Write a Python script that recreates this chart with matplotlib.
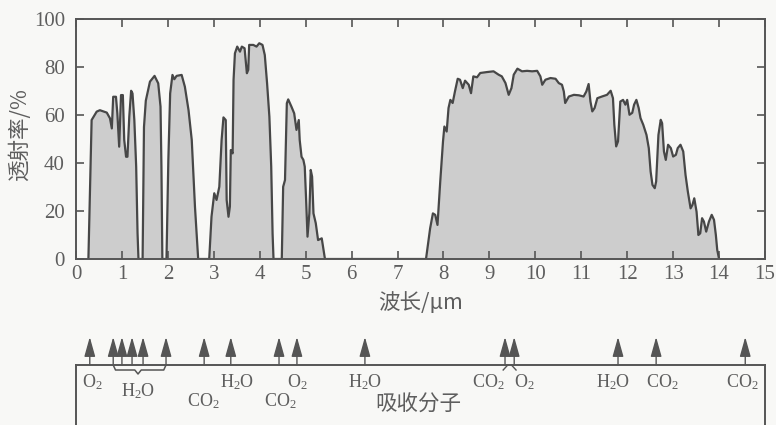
import matplotlib
matplotlib.use('Agg')
import numpy as np
import matplotlib.pyplot as plt

plt.rcParams['font.family'] = ['Liberation Serif', 'Noto Sans CJK SC']
plt.rcParams['mathtext.fontset'] = 'custom'
plt.rcParams['mathtext.rm'] = 'Liberation Serif'
plt.rcParams['mathtext.default'] = 'regular'

# transmission windows (wavelength um, transmittance %)
wl_1 = [0.27, 0.34, 0.45, 0.52, 0.67, 0.74, 0.78, 0.81, 0.87, 0.90, 0.94, 0.98, 1.02, 1.05, 1.09,
        1.12, 1.16, 1.20, 1.23, 1.27, 1.31, 1.34, 1.36]
tr_1 = [0, 57.9, 61.4, 62, 61, 58.6, 54.4, 67.6, 67.6, 60.7, 46.8, 68.3, 68.3, 49.6, 42.6,
        42.6, 59.3, 70.1, 69, 57.9, 38.5, 10.7, 0]

wl_2 = [1.45, 1.48, 1.52, 1.61, 1.71, 1.79, 1.84, 1.86, 1.88]
tr_2 = [0, 55, 66, 73.9, 76.3, 73.2, 63.5, 38.5, 0]

wl_3 = [1.97, 2.01, 2.05, 2.10, 2.14, 2.19, 2.30, 2.37, 2.45, 2.52, 2.59, 2.66]
tr_3 = [0, 41, 69, 76.7, 74.9, 76.3, 76.7, 71.8, 62, 49.6, 21.8, 0]

wl_4 = [2.90, 2.95, 3.01, 3.06, 3.12, 3.17, 3.21, 3.26, 3.28, 3.32, 3.35, 3.37, 3.41, 3.43, 3.46,
        3.51, 3.57, 3.61, 3.67, 3.72, 3.75, 3.77, 3.86, 3.93, 3.99, 4.06, 4.11, 4.16, 4.21, 4.25,
        4.28, 4.30]
tr_4 = [0, 17.6, 27.4, 24.6, 30.1, 49.6, 59, 57.9, 24.6, 17.6, 21.8, 45.4, 44, 74.6, 85.7,
        88.5, 86.4, 88.5, 87.8, 77.4, 78.8, 89.2, 89.2, 88.5, 89.9, 89.2, 85, 73.2, 59.3, 38.5,
        10.4, 0]

wl_5 = [4.48, 4.51, 4.55, 4.59, 4.62, 4.69, 4.75, 4.80, 4.85, 4.87, 4.91, 4.95, 4.98, 5.01, 5.04,
        5.08, 5.11, 5.14, 5.17, 5.22, 5.27, 5.35, 5.42]
tr_5 = [0, 30.1, 32.9, 64.9, 66.5, 63.5, 60.7, 53.8, 57.9, 49.6, 42.6, 41.3, 38.5, 24.6, 9.3,
        19, 37.1, 34.3, 19, 14.9, 7.9, 8.6, 0]

wl_6 = [7.62, 7.71, 7.77, 7.82, 7.87, 7.93, 7.99, 8.02, 8.07, 8.11, 8.15, 8.20, 8.25, 8.31, 8.36,
        8.42, 8.47, 8.55, 8.60, 8.65, 8.73, 8.80, 8.95, 9.09, 9.20, 9.27, 9.35, 9.42, 9.48, 9.53,
        9.61, 9.71, 9.82, 9.93, 10.04, 10.11, 10.15, 10.22, 10.33, 10.44, 10.51, 10.58, 10.62,
        10.65, 10.73, 10.84, 10.95, 11.05, 11.11, 11.16, 11.20, 11.24, 11.29, 11.35, 11.45, 11.56,
        11.64, 11.69, 11.72, 11.76, 11.80, 11.85, 11.91, 11.96, 12.00, 12.05, 12.11, 12.15, 12.20,
        12.25, 12.29, 12.35, 12.42, 12.47, 12.51, 12.55, 12.60, 12.63, 12.68, 12.73, 12.76, 12.80,
        12.84, 12.89, 12.95, 13.00, 13.06, 13.10, 13.16, 13.22, 13.27, 13.32, 13.38, 13.42, 13.46,
        13.51, 13.55, 13.59, 13.63, 13.67, 13.72, 13.78, 13.84, 13.89, 13.93, 13.96, 14.00]
tr_6 = [0, 12.8, 19, 18.4, 14.2, 32.3, 49, 55.2, 53.1, 62.9, 66.3, 65, 69.8, 75.1, 74.7,
        71.2, 74.3, 72.6, 69.1, 76.1, 75.7, 77.5, 77.9, 78.2, 76.8, 76.1, 73.3, 68.4, 71.2, 76.8,
        79.3, 78.2, 78.4, 78.2, 78.4, 76.1, 72.6, 74.7, 75.4, 75.1, 73.3, 72.6, 69.8,
        65, 67.7, 68.4, 68.2, 67.7, 69.8, 72.9, 65.6, 61.5, 62.9, 67, 67.7, 68.4,
        70.1, 67, 55.9, 46.9, 49, 65.6, 66.3, 64.3, 66.3, 60.1, 60.9, 64.3, 66.3,
        62.9, 58.7, 55.9, 51.7, 46.2, 36.4, 30.9, 29.5, 32.3, 51.7, 58, 56.6, 44.8,
        41.3, 47.6, 46.2, 42.7, 43.4, 46.2, 47.6, 44.8, 35, 28.1, 21.1, 22.5, 25.3,
        19.7, 10, 10.7, 17, 15.6, 11.4, 15.6, 18.4, 16.3, 10, 3.8, 0]

# absorbing molecules
arrow_wl = [0.30, 0.81, 1.00, 1.22, 1.46, 1.96, 2.79, 3.37, 4.42, 4.81, 6.29, 9.34, 9.54,
            11.80, 12.63, 14.57]
mol_text = ['O$_2$', 'H$_2$O', 'CO$_2$', 'H$_2$O', 'CO$_2$', 'O$_2$', 'H$_2$O', 'CO$_2$', 'O$_2$',
            'H$_2$O', 'CO$_2$', 'CO$_2$']
mol_wl = [0.35, 1.35, 2.77, 3.51, 4.44, 4.81, 6.29, 8.97, 9.75, 11.69, 12.76, 14.50]
mol_row = [0, 1, 2, 0, 2, 0, 0, 0, 0, 0, 0, 0]

bg = '#f8f8f6'
gray = '#555555'
txt = '#5e5e5e'

wl = np.concatenate([wl_1, wl_2, wl_3, wl_4, wl_5, wl_6])
tr = np.concatenate([tr_1, tr_2, tr_3, tr_4, tr_5, tr_6])

fig = plt.figure(figsize=(7.76, 4.25), dpi=100, facecolor=bg)
ax = fig.add_axes([76/776, 1 - 259/425, 689/776, 240/425], facecolor=bg)
ax.fill_between(wl, tr, 0, color='#cdcdcd', lw=0)
ax.plot(wl, tr, color='#474747', lw=1.6)
ax.set_xlim(0, 15)
ax.set_ylim(0, 100)
ax.set_xticks(range(0, 16))
ax.set_yticks(range(0, 101, 20))
ax.tick_params(direction='in', top=True, right=True, length=6, width=1.2,
               colors=gray, labelcolor=txt, labelsize=15)
ax.tick_params(axis='y', pad=8)
ax.tick_params(axis='x', pad=4)
for s in ax.spines.values():
    s.set_color(gray)
    s.set_linewidth(1.4)

fig.text(421/776, 1 - 303/425, '波长/μm', ha='center', va='center', fontsize=15.5, color=txt,
         family=['Noto Sans CJK SC'])
fig.text(20/776, 1 - 135/425, '透射率/%', ha='center', va='center', fontsize=15.5, color=txt,
         rotation=90, family=['Noto Sans CJK SC'])

# bottom strip
bx = fig.add_axes([76/776, 0, 689/776, 100/425])
bx.set_xlim(0, 15)
bx.set_ylim(100, 0)
bx.axis('off')
bx.plot([0, 15], [40, 40], color=gray, lw=1.4, clip_on=False)
bx.plot([0, 0], [40, 102], color=gray, lw=1.4, clip_on=False)
bx.plot([15, 15], [40, 102], color=gray, lw=1.4, clip_on=False)
for w in arrow_wl:
    bx.annotate('', xy=(w, 12), xytext=(w, 40),
                arrowprops=dict(arrowstyle='-|>,head_length=1.0,head_width=0.28', color=gray,
                                lw=1.0, shrinkA=0, shrinkB=0, mutation_scale=12))

row_y = [57, 66, 76]
for t, w, r in zip(mol_text, mol_wl, mol_row):
    bx.text(w, row_y[r], t, ha='center', va='center', fontsize=13, color=txt)

# brace under H2O arrows
bx.plot([0.81, 0.86, 1.28, 1.35, 1.42, 1.91, 1.96], [40, 45, 45, 49, 45, 45, 40],
        color=gray, lw=1.1)
# small marks under the CO2/O2 pair
bx.plot([9.30, 9.36, 9.40], [45, 42, 40], color=gray, lw=1.0)
bx.plot([9.58, 9.52, 9.48], [45, 42, 40], color=gray, lw=1.0)

bx.text(7.45, 80, '吸收分子', ha='center', va='center', fontsize=15.5,
        color=txt, family=['Noto Sans CJK SC'])

fig.savefig('out.png', dpi=100, facecolor=bg)
